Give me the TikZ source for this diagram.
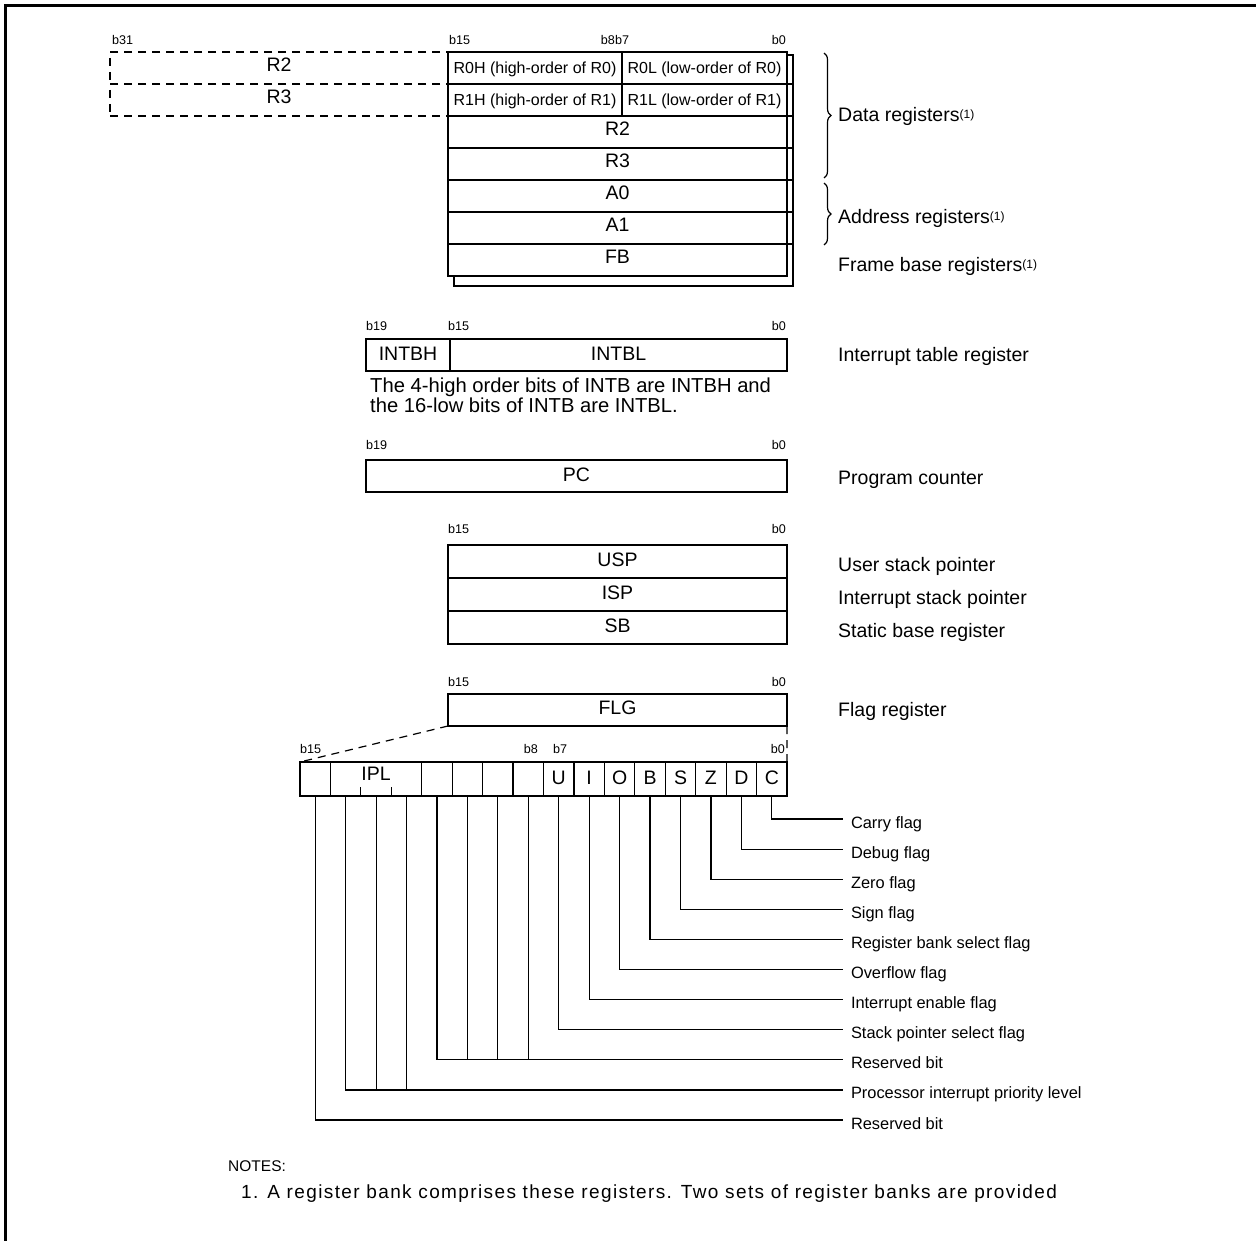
\documentclass[tikz,border=0pt]{standalone}
\usepackage{fontspec}
\setmainfont{Liberation Sans}
\usepackage{graphicx}
\usetikzlibrary{decorations.pathreplacing}
\newcommand{\noteone}{\raisebox{3.5pt}{\fontsize{12}{12}\selectfont(1)}}

\begin{document}
\begin{tikzpicture}[
  x=1pt, y=-1pt,
  cell/.style={draw, fill=white, line width=1.2pt, anchor=north west, inner sep=0pt, outer sep=0pt, minimum height=32pt, text height=13pt, text depth=3pt, font=\fontsize{19.5}{21}\selectfont},
  bank/.style={cell, text depth=5pt},
  half/.style={cell, font=\fontsize{16}{18}\selectfont, text height=13pt, text depth=1.5pt},
  bitcell/.style={cell, minimum width=30.44pt, minimum height=34pt, text depth=3pt},
  bitlbl/.style={inner sep=0pt, font=\fontsize{12.6}{14}\selectfont},
  reglbl/.style={anchor=base west, inner sep=0pt, font=\fontsize{19.5}{21}\selectfont},
  flaglbl/.style={anchor=west, inner xsep=8pt, inner ysep=0pt, outer sep=0pt, text height=18pt, text depth=0pt, font=\fontsize{16.4}{18}\selectfont},
  leader/.style={line width=1.2pt},
  dashline/.style={line width=1.2pt, dash pattern=on 8pt off 6pt},
  regbrace/.style={decorate, decoration={brace, amplitude=7pt}, line width=1.2pt},
  notetext/.style={anchor=base west, inner sep=0pt, font=\fontsize{19}{20}\selectfont}
]
\useasboundingbox (0,0) rectangle (1256,1241);
% frame
\draw[line width=3pt] (5.5,1241) -- (5.5,5.5) -- (1256,5.5);

% register bank (second bank behind)
\draw[line width=1.6pt, fill=white] (454,55) rectangle (793,286);
\node[bank, dashline, minimum width=338pt] (r2ext) at (110,52) {R2};
\node[bank, dashline, minimum width=338pt] (r3ext) at (110,84) {R3};
\node[half, minimum width=174pt] (r0h) at (448,52) {R0H (high-order of R0)};
\node[half, minimum width=165pt] (r0l) at (622,52) {R0L (low-order of R0)};
\node[half, minimum width=174pt] (r1h) at (448,84) {R1H (high-order of R1)};
\node[half, minimum width=165pt] (r1l) at (622,84) {R1L (low-order of R1)};
\foreach \reg [count=\i from 0] in {R2,R3,A0,A1,FB}
  \node[bank, minimum width=339pt] (\reg) at (448,{116+32*\i}) {\reg};
\foreach \reg in {r1l,R2,R3,A0,A1,FB}
  \draw[line width=1.2pt] (\reg.north east) -- ++(6,0);

\node[bitlbl, anchor=base west] (b31) at (112,45) {b31};
\node[bitlbl, anchor=base west] (bankb15) at (449,45) {b15};
\node[bitlbl, anchor=base east] (bankb8) at (615,45) {b8};
\node[bitlbl, anchor=base west] (bankb7) at (615,45) {b7};
\node[bitlbl, anchor=base east] (bankb0) at (786,45) {b0};

\draw[regbrace] (824,53) -- (824,178);
\draw[regbrace] (824,183) -- (824,245);
\node[reglbl] (datalbl) at (838,122) {Data registers\noteone};
\node[reglbl] (addrlbl) at (838,224) {Address registers\noteone};
\node[reglbl] (fblbl) at (838,272) {Frame base registers\noteone};

% INTB
\node[bitlbl, anchor=base west] (intbb19) at (366,331) {b19};
\node[bitlbl, anchor=base west] (intbb15) at (448,331) {b15};
\node[bitlbl, anchor=base east] (intbb0) at (786,331) {b0};
\node[cell, minimum width=84pt] (intbh) at (366,339) {INTBH};
\node[cell, minimum width=337pt] (intbl) at (450,339) {INTBL};
\node[anchor=north west, align=left, inner sep=0pt, font=\fontsize{20.2}{18.5}\selectfont] (intbnote) at (370,377.5)
  {The 4-high order bits of INTB are INTBH and\\the 16-low bits of INTB are INTBL.};
\node[reglbl] (intblbl) at (838,361) {Interrupt table register};

% PC
\node[bitlbl, anchor=base west] (pcb19) at (366,449) {b19};
\node[bitlbl, anchor=base east] (pcb0) at (786,449) {b0};
\node[cell, minimum width=421pt] (pc) at (366,460) {PC};
\node[reglbl] (pclbl) at (838,484) {Program counter};

% stack pointers
\node[bitlbl, anchor=base west] (spb15) at (448,533) {b15};
\node[bitlbl, anchor=base east] (spb0) at (786,533) {b0};
\node[cell, minimum width=339pt, minimum height=33pt] (usp) at (448,545) {USP};
\node[cell, minimum width=339pt, minimum height=33pt] (isp) at (448,578) {ISP};
\node[cell, minimum width=339pt, minimum height=33pt] (sb) at (448,611) {SB};
\node[reglbl] (usplbl) at (838,571) {User stack pointer};
\node[reglbl] (isplbl) at (838,604) {Interrupt stack pointer};
\node[reglbl] (sblbl) at (838,637) {Static base register};

% FLG
\node[bitlbl, anchor=base west] (flgb15) at (448,686) {b15};
\node[bitlbl, anchor=base east] (flgb0) at (786,686) {b0};
\node[bank, minimum width=339pt] (flg) at (448,694) {FLG};
\node[reglbl] (flglbl) at (838,716) {Flag register};

% flag bits
\node[bitlbl, anchor=base west] (bitb15) at (300,753) {b15};
\node[bitlbl, anchor=base east] (bitb8) at (538,753) {b8};
\node[bitlbl, anchor=base west] (bitb7) at (553,753) {b7};
\node[bitlbl, anchor=base east] (bitb0) at (785,753) {b0};
\foreach \n/\t in {15/{},11/{},10/{},9/{},8/{},7/U,6/I,5/O,4/B,3/S,2/Z,1/D,0/C}
  \node[bitcell] (bit\n) at ({300+(15-\n)*30.44},762) {\t};
\node[bitcell, minimum width=91.32pt, text depth=10pt] (ipl) at (330.44,762) {IPL};
\draw[leader] ([xshift=30.44pt]ipl.south west) -- ++(0,-9);
\draw[leader] ([xshift=60.88pt]ipl.south west) -- ++(0,-9);
\coordinate (bit14) at (345.66,796);
\coordinate (bit13) at (376.1,796);
\coordinate (bit12) at (406.54,796);

\draw[dashline] (flg.south west) -- (bit15.north west);
\draw[dashline] (flg.south east) -- (bit0.north east);

\foreach \t [count=\i from 0] in {Carry flag, Debug flag, Zero flag, Sign flag,
    Register bank select flag, Overflow flag, Interrupt enable flag,
    Stack pointer select flag, Reserved bit, Processor interrupt priority level, Reserved bit}
  \node[flaglbl] (lbl\i) at (843,{819+30.1*\i}) {\t};

\foreach \n in {0,...,7}
  \draw[leader] (bit\n.south) |- (lbl\n.west);
\draw[leader] (bit11.south) |- (lbl8.west);
\foreach \n in {10,9,8}
  \draw[leader] (bit\n.south) -- (bit\n.south |- lbl8.west);
\draw[leader] (bit14) |- (lbl9.west);
\foreach \n in {13,12}
  \draw[leader] (bit\n) -- (bit\n |- lbl9.west);
\draw[leader] (bit15.south) |- (lbl10.west);

% notes
\node[notetext, font=\fontsize{15.5}{18}\selectfont] (notes) at (228,1171) {NOTES:};
\node[notetext, font=\fontsize{19}{20}\selectfont\addfontfeature{LetterSpace=7.3}] (note1) at (241,1198)
  {1. A register bank comprises these registers. Two sets of register banks are provided};
\end{tikzpicture}
\end{document}
